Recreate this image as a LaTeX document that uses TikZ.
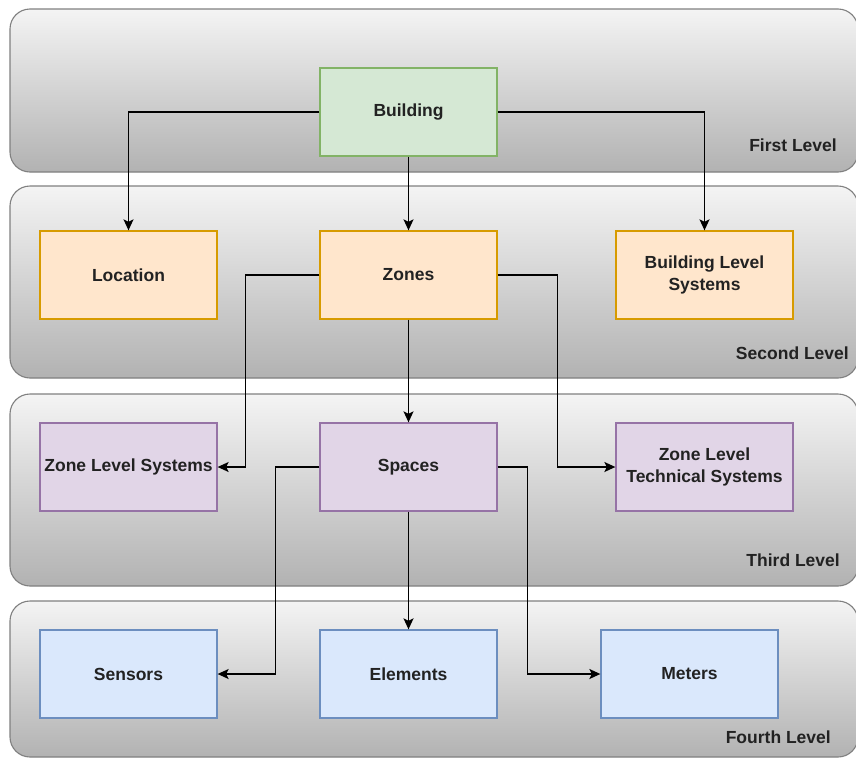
\documentclass[tikz,border=0pt]{standalone}
\usepackage{fontspec}
\setmainfont{Liberation Sans}
\usetikzlibrary{arrows.meta}

\definecolor{bandtop}{RGB}{244,244,244}
\definecolor{bandbot}{RGB}{178,178,178}
\definecolor{bandline}{RGB}{128,128,128}
\definecolor{txt}{RGB}{34,34,34}
\definecolor{greenfill}{HTML}{D5E8D4}
\definecolor{greenline}{HTML}{82B366}
\definecolor{orangefill}{HTML}{FFE6CC}
\definecolor{orangeline}{HTML}{D79B00}
\definecolor{purplefill}{HTML}{E1D5E7}
\definecolor{purpleline}{HTML}{9673A6}
\definecolor{bluefill}{HTML}{DAE8FC}
\definecolor{blueline}{HTML}{6C8EBF}

\tikzset{
  band/.style={draw=bandline, line width=1.1pt, rounded corners=20pt,
    top color=bandtop, bottom color=bandbot},
  levellabel/.style={anchor=east, inner sep=0pt, text=txt,
    font=\fontsize{17.5}{21}\selectfont\bfseries},
  box/.style={rectangle, line width=1.3pt, minimum width=177pt,
    minimum height=88pt, inner sep=2pt, align=center, text=txt,
    font=\fontsize{17.5}{22}\selectfont\bfseries},
  lvlone/.style={box, fill=greenfill, draw=greenline},
  lvltwo/.style={box, fill=orangefill, draw=orangeline},
  lvlthree/.style={box, fill=purplefill, draw=purpleline},
  lvlfour/.style={box, fill=bluefill, draw=blueline},
  link/.style={draw=black, line width=1.5pt,
    -{Stealth[length=11pt,width=10pt,inset=2.5pt]}},
}

\begin{document}
\begin{tikzpicture}[x=1pt,y=-1pt]
  \clip (0,0) rectangle (856,758);
  \fill[white] (0,0) rectangle (856,758);

  % level bands
  \path[band] (10,9) rectangle (858,172);
  \path[band] (10,186) rectangle (858,378);
  \path[band] (10,394) rectangle (858,586);
  \path[band] (10,601) rectangle (858,757);

  \node[levellabel] (l1) at (837,145) {First Level};
  \node[levellabel] (l2) at (849,353) {Second Level};
  \node[levellabel] (l3) at (840,560) {Third Level};
  \node[levellabel] (l4) at (831,737) {Fourth Level};

  % boxes
  \node[lvlone]   (bld)  at (408.5,112) {Building};

  \node[lvltwo]   (loc)  at (128.5,275) {Location};
  \node[lvltwo]   (zon)  at (408.5,275) {Zones};
  \node[lvltwo]   (bls)  at (704.5,275) {Building Level\\Systems};

  \node[lvlthree] (zls)  at (128.5,467) {Zone Level Systems};
  \node[lvlthree] (spc)  at (408.5,467) {Spaces};
  \node[lvlthree] (zlts) at (704.5,467) {Zone Level\\Technical Systems};

  \node[lvlfour]  (sen)  at (128.5,674) {Sensors};
  \node[lvlfour]  (ele)  at (408.5,674) {Elements};
  \node[lvlfour]  (met)  at (689.5,674) {Meters};

  % connectors
  \draw[link] (bld.west) -| (loc.north);
  \draw[link] (bld.south) -- (zon.north);
  \draw[link] (bld.east) -| (bls.north);

  \draw[link] (zon.west) -- ++(-74,0) |- (zls.east);
  \draw[link] (zon.south) -- (spc.north);
  \draw[link] (zon.east) -- ++(60,0) |- (zlts.west);

  \draw[link] (spc.west) -- ++(-44,0) |- (sen.east);
  \draw[link] (spc.south) -- (ele.north);
  \draw[link] (spc.east) -- ++(30,0) |- (met.west);
\end{tikzpicture}
\end{document}
